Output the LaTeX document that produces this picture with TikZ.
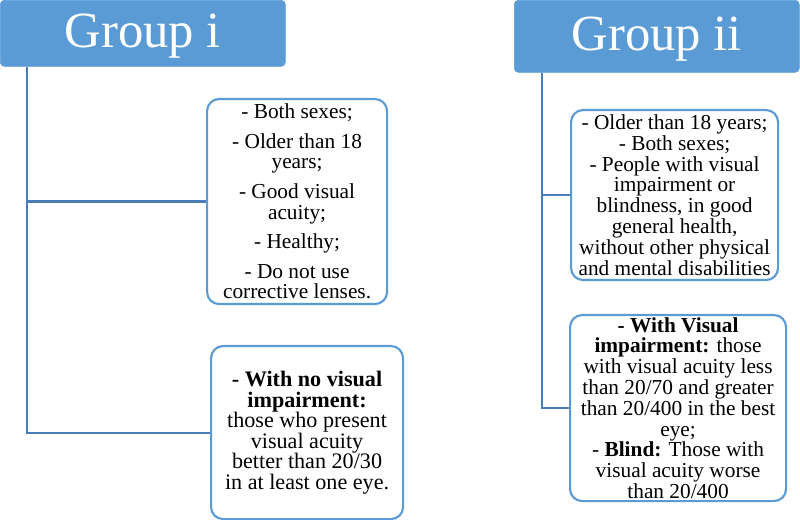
\documentclass[tikz,border=0pt]{standalone}
\usepackage{fontspec}
\setmainfont{Liberation Serif}
\usetikzlibrary{positioning,calc}
\definecolor{grpblue}{HTML}{5B9BD5}
\definecolor{grpline}{HTML}{4A7CB8}

\begin{document}
\begin{tikzpicture}[x=0.75pt, y=-0.75pt,
    header/.style={rectangle, rounded corners=3pt, fill=grpblue, draw=grpblue, text=white, anchor=north west, inner sep=0pt, text depth=3.5pt, font=\fontsize{38}{40}\selectfont},
    infobox/.style={rectangle, rounded corners=9pt, draw=grpblue, line width=1.6pt, fill=white, anchor=north west, align=center, inner sep=0pt, font=\fontsize{16}{15.6}\selectfont},
    branch/.style={draw=grpline, line width=1.6pt}]
    \useasboundingbox (0,0) rectangle (800,520);

    % Left group: Group i
    \node[header, minimum width=213.75pt, minimum height=49.5pt] (grpI) at (0,0) {Group i};
    \coordinate (trunkI) at ($(grpI.south west)+(27,0)$);

    % Inclusion criteria
    \node[infobox, minimum width=135pt, minimum height=153.75pt] (inclI) at (206,98) {- Both sexes;\\[6.5pt] - Older than 18\\ years;\\[6.5pt] - Good visual\\ acuity;\\[6.5pt] - Healthy;\\[6.5pt] - Do not use\\ corrective lenses.};
    \draw[branch] (inclI.west) -- (inclI.west -| trunkI);

    % Visual status
    \node[infobox, minimum width=144pt, minimum height=129.75pt, font=\fontsize{16.6}{15.4}\selectfont] (critI) at (210,345) {\textbf{- With no visual}\\ \textbf{impairment:}\\ those who present\\ visual acuity\\ better than 20/30\\ in at least one eye.};
    \draw[branch] (trunkI) |- (critI.west);

    % Right group: Group ii
    \node[header, minimum width=213.75pt, minimum height=54pt] (grpII) at (514,0) {Group ii};
    \coordinate (trunkII) at ($(grpII.south west)+(28,0)$);

    % Inclusion criteria
    \node[infobox, minimum width=155.25pt, minimum height=127.5pt] (inclII) at (570,109) {- Older than 18 years;\\ - Both sexes;\\ - People with visual\\ impairment or\\ blindness, in good\\ general health,\\ without other physical\\ and mental disabilities};
    \draw[branch] (inclII.west) -- (inclII.west -| trunkII);

    % Visual status
    \node[infobox, minimum width=162pt, minimum height=139.5pt] (critII) at (569,314) {\textbf{- With Visual}\\ \textbf{impairment:} those\\ with visual acuity less\\ than 20/70 and greater\\ than 20/400 in the best\\ eye;\\ - \textbf{Blind:} Those with\\ visual acuity worse\\ than 20/400};
    \draw[branch] (trunkII) |- (critII.west);
\end{tikzpicture}
\end{document}
